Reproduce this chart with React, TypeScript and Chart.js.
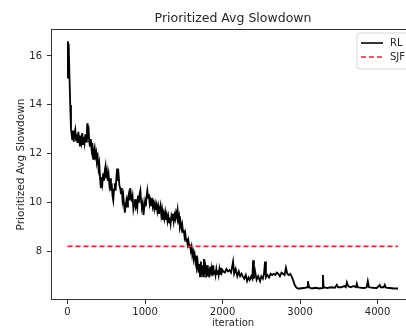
import React, { useEffect, useRef } from 'react';
import { Chart, registerables } from 'chart.js';

Chart.register(...registerables);

const titleText = 'Prioritized Avg Slowdown';
const xAxisLabel = 'iteration';
const yAxisLabel = 'Prioritized Avg Slowdown';
const seriesNames = ['RL', 'SJF'];
const xTickValues = [0, 1000, 2000, 3000, 4000];
const yTickValues = [8, 10, 12, 14, 16];
const sjfValue = 8.22;

const iterations = [
  0, 5, 10, 15, 25, 35, 45,
  50, 60, 70, 80, 90, 100, 110, 120, 130, 140,
  150, 160, 170, 180, 190, 200, 210, 220, 230, 240,
  250, 255,
  260, 270, 280, 290, 300, 310, 320, 330, 340, 350,
  360, 370, 380, 390, 400, 410, 420, 430, 440, 450,
  460, 470, 480, 490, 500, 510, 520, 530, 540, 550,
  560, 570, 580, 590, 600, 610, 620, 630, 640, 650,
  660, 670, 680, 690, 700, 710, 720, 730, 740, 750,
  760, 770, 780, 790, 800, 810, 820, 830, 840, 850,
  860, 870, 880, 890, 900, 910, 920, 930, 940, 950,
  960, 970, 980, 990, 1000, 1010, 1020, 1030, 1040, 1050,
  1060, 1070, 1080, 1090, 1100, 1110, 1120, 1130, 1140, 1150,
  1160, 1170, 1180, 1190, 1200, 1210, 1220, 1230, 1240, 1250,
  1260, 1270, 1280, 1290, 1300, 1310, 1320, 1330, 1340, 1350,
  1360, 1370, 1380, 1390, 1400, 1410, 1420, 1430, 1440, 1450,
  1460, 1470, 1480, 1490, 1500, 1510, 1520, 1530, 1540, 1550,
  1560, 1570, 1580, 1590, 1600, 1610, 1620, 1630, 1640, 1650,
  1660, 1670, 1680, 1690, 1700,
  1710, 1720, 1730, 1740, 1750, 1760, 1770, 1780, 1790, 1800,
  1810, 1820, 1830, 1840, 1850, 1860, 1870, 1880, 1890, 1900,
  1910, 1920, 1930, 1940, 1950, 1960, 1970, 1980, 1990, 2000,
  2010, 2030, 2050, 2070, 2090, 2110, 2125, 2136, 2150, 2170,
  2190, 2210, 2227, 2245, 2260, 2280, 2300, 2317, 2335, 2350,
  2370, 2385, 2394, 2405, 2420, 2440, 2460, 2484, 2500, 2520,
  2535, 2548, 2560, 2580, 2600, 2620, 2640, 2660, 2680, 2700,
  2720, 2740, 2760, 2780, 2800, 2818, 2835, 2855, 2875, 2890,
  2910, 2930, 2950, 2970,
  2990, 3050, 3090, 3102, 3115, 3150, 3200, 3250, 3285, 3295,
  3305, 3350, 3400, 3450, 3475, 3490, 3530, 3570, 3590, 3604,
  3620, 3650, 3690, 3720, 3732, 3745, 3790, 3830, 3860, 3874,
  3890, 3940, 3990, 4028, 4040, 4080, 4093, 4110, 4160, 4210,
  4265,
];

const rlSlowdown = [
  15.1, 16.6, 16.2, 16.5, 15.2, 14.0, 13.0,
  12.9, 12.6, 12.95, 12.5, 12.85, 13.0, 12.55, 12.8, 12.45, 12.9,
  12.6, 12.3, 12.75, 12.5, 12.85, 12.4, 12.7, 12.45, 12.8, 12.5,
  12.9, 13.25,
  12.6, 13.15, 12.5, 12.3, 12.6, 12.2, 12.45, 11.8, 12.1, 12.25,
  11.9, 12.05, 11.7, 11.85, 11.4, 11.6, 11.0, 10.6, 11.05, 10.8,
  11.2, 10.9, 11.3, 11.5, 11.0, 11.25, 10.9, 11.15, 10.75, 11.0,
  10.5, 10.8, 10.3, 10.1, 10.55, 10.8, 10.5, 11.0, 11.4, 10.9,
  11.1, 10.7, 10.6, 10.35, 10.6, 10.1, 10.3, 9.9, 9.6, 9.9,
  10.1, 9.85, 10.2, 10.35, 10.1, 10.6, 10.3, 10.05, 10.25, 9.75,
  9.95, 10.15, 9.85, 10.0, 9.8, 10.3, 10.0, 10.35, 10.5, 10.05,
  9.85, 10.0, 9.5, 9.8, 10.05, 9.85, 10.25, 10.5, 10.2, 10.35,
  9.95, 10.1, 9.9, 10.2, 9.85, 10.0, 9.75, 9.95, 9.7, 9.9,
  9.65, 9.85, 9.55, 9.75, 9.9, 9.5, 9.7, 9.3, 9.55, 9.35,
  9.6, 9.3, 9.5, 9.25, 9.45, 9.2, 9.4, 9.15, 9.45, 9.3,
  9.55, 9.25, 9.5, 9.35, 9.6, 9.45, 9.7, 9.3, 9.45, 9.05,
  9.2, 8.95, 9.1, 8.8, 8.9, 8.6, 8.75, 8.45, 8.55, 8.3,
  8.45, 8.2, 8.3, 8.05, 8.2, 7.85, 8.0, 7.75, 7.9, 7.6,
  7.85, 7.4, 7.55, 7.15, 7.5,
  7.0, 7.6, 7.05, 7.45, 7.0, 7.7, 7.1, 7.35, 6.95, 7.45,
  7.0, 7.3, 6.95, 7.4, 7.05, 7.3, 7.0, 7.45, 7.1, 7.25,
  7.05, 7.3, 7.1, 7.25, 7.05, 7.3, 7.1, 7.35, 7.15, 7.25,
  7.2, 7.15, 7.3, 7.2, 7.25, 7.15, 7.4, 7.6, 7.1, 7.3,
  7.0, 7.2, 7.0, 7.1, 7.0, 6.9, 7.05, 6.8, 6.95, 6.85,
  7.0, 6.9, 7.65, 6.9, 7.2, 6.85, 7.0, 6.8, 7.0, 6.9,
  7.1, 7.6, 6.95, 7.05, 6.95, 7.1, 7.05, 7.1, 7.05, 7.15,
  7.1, 7.0, 7.15, 7.1, 7.05, 7.35, 7.1, 7.05, 7.1, 7.0,
  6.85, 6.65, 6.55, 6.5,
  6.5, 6.52, 6.55, 6.8, 6.55, 6.5, 6.53, 6.5, 6.52, 7.05,
  6.55, 6.52, 6.55, 6.53, 6.65, 6.55, 6.55, 6.6, 6.55, 6.75,
  6.6, 6.55, 6.6, 6.55, 6.7, 6.55, 6.53, 6.52, 6.55, 6.8,
  6.55, 6.53, 6.52, 6.65, 6.55, 6.55, 6.65, 6.53, 6.52, 6.5,
  6.5,
];

const FONT = "'DejaVu Sans', sans-serif";
const TEXT = '#262626';
const SJF_COLOR = '#e8262a';

const framePlugin = {
  id: 'frame',
  afterDatasetsDraw(chart: any) {
    const { ctx, chartArea } = chart;
    const l = Math.round(chartArea.left) + 0.5;
    const t = Math.round(chartArea.top) + 0.5;
    const r = Math.round(chartArea.right) - 0.5;
    const b = Math.round(chartArea.bottom) - 0.5;
    ctx.save();
    ctx.strokeStyle = '#333';
    ctx.lineWidth = 1;
    ctx.strokeRect(l, t, r - l, b - t);
    ctx.restore();
  },
};

const legendPlugin = {
  id: 'boxLegend',
  afterDraw(chart: any) {
    const { ctx, chartArea } = chart;
    const w = 56;
    const h = 36;
    const left = chartArea.right - w - 2;
    const top = chartArea.top + 4;
    ctx.save();
    ctx.beginPath();
    const rad = 3;
    ctx.moveTo(left + rad, top);
    ctx.lineTo(left + w - rad, top);
    ctx.quadraticCurveTo(left + w, top, left + w, top + rad);
    ctx.lineTo(left + w, top + h - rad);
    ctx.quadraticCurveTo(left + w, top + h, left + w - rad, top + h);
    ctx.lineTo(left + rad, top + h);
    ctx.quadraticCurveTo(left, top + h, left, top + h - rad);
    ctx.lineTo(left, top + rad);
    ctx.quadraticCurveTo(left, top, left + rad, top);
    ctx.closePath();
    ctx.fillStyle = 'rgba(255,255,255,0.85)';
    ctx.fill();
    ctx.strokeStyle = '#d4d4d4';
    ctx.lineWidth = 1;
    ctx.stroke();

    const rows = [
      { name: seriesNames[0], color: '#000', dash: [] as number[] },
      { name: seriesNames[1], color: SJF_COLOR, dash: [5, 3] },
    ];
    rows.forEach((row, i) => {
      const y = top + 10 + i * 14;
      ctx.beginPath();
      ctx.setLineDash(row.dash);
      ctx.strokeStyle = row.color;
      ctx.lineWidth = 1.6;
      ctx.moveTo(left + 4, y);
      ctx.lineTo(left + 26, y);
      ctx.stroke();
      ctx.setLineDash([]);
      ctx.fillStyle = TEXT;
      ctx.font = `10px ${FONT}`;
      ctx.textBaseline = 'middle';
      ctx.textAlign = 'left';
      ctx.fillText(row.name, left + 33, y);
    });
    ctx.restore();
  },
};

export default function App() {
  const canvasRef = useRef<HTMLCanvasElement | null>(null);

  useEffect(() => {
    if (!canvasRef.current) return;
    const rlData = iterations.map((x, i) => ({ x, y: rlSlowdown[i] }));
    const sjfData = [
      { x: iterations[0], y: sjfValue },
      { x: iterations[iterations.length - 1], y: sjfValue },
    ];
    const chart = new Chart(canvasRef.current, {
      type: 'line',
      data: {
        datasets: [
          {
            label: seriesNames[1],
            data: sjfData,
            borderColor: SJF_COLOR,
            borderWidth: 1.6,
            borderDash: [5, 3],
            pointRadius: 0,
            fill: false,
            tension: 0,
          },
          {
            label: seriesNames[0],
            data: rlData,
            borderColor: '#000',
            borderWidth: 1.8,
            pointRadius: 0,
            fill: false,
            tension: 0,
          },
        ],
      },
      options: {
        responsive: false,
        animation: false,
        devicePixelRatio: 1,
        layout: { padding: 0 },
        plugins: {
          legend: { display: false },
          tooltip: { enabled: false },
          title: {
            display: true,
            text: titleText,
            fullSize: false,
            color: TEXT,
            font: { family: FONT, size: 12.5, weight: 'normal' },
            padding: { top: 11, bottom: 3 },
          },
        },
        scales: {
          x: {
            type: 'linear',
            min: -213,
            max: 4483,
            afterFit: (s: any) => { s.height = 29; },
            afterBuildTicks: (s: any) => { s.ticks = xTickValues.map((v) => ({ value: v })); },
            border: { display: false },
            grid: { display: true, drawOnChartArea: false, drawTicks: true, tickLength: 4, color: '#333', lineWidth: 1 },
            ticks: {
              color: TEXT,
              font: { family: FONT, size: 10 },
              padding: 2,
              maxRotation: 0,
              autoSkip: false,
              includeBounds: false,
              callback: (v: any) => String(v),
            },
            title: { display: true, text: xAxisLabel, color: TEXT, font: { family: FONT, size: 10 }, padding: { top: 0, bottom: 0 } },
          },
          y: {
            type: 'linear',
            min: 6.03,
            max: 17.1,
            afterFit: (s: any) => { s.width = 51; },
            afterBuildTicks: (s: any) => { s.ticks = yTickValues.map((v) => ({ value: v })); },
            border: { display: false },
            grid: { display: true, drawOnChartArea: false, drawTicks: true, tickLength: 4, color: '#333', lineWidth: 1 },
            ticks: {
              color: TEXT,
              font: { family: FONT, size: 10 },
              padding: 5,
              autoSkip: false,
              includeBounds: false,
              callback: (v: any) => String(v),
            },
            title: { display: true, text: yAxisLabel, color: TEXT, font: { family: FONT, size: 10.5 }, padding: { top: 15, bottom: 0 } },
          },
        },
      },
      plugins: [framePlugin, legendPlugin],
    } as any);
    return () => chart.destroy();
  }, []);

  return (
    <div style={{ position: 'fixed', left: 0, top: 0, width: 406, height: 329, overflow: 'hidden', background: '#fff' }}>
      <canvas ref={canvasRef} width={415} height={329} style={{ display: 'block' }} />
    </div>
  );
}
